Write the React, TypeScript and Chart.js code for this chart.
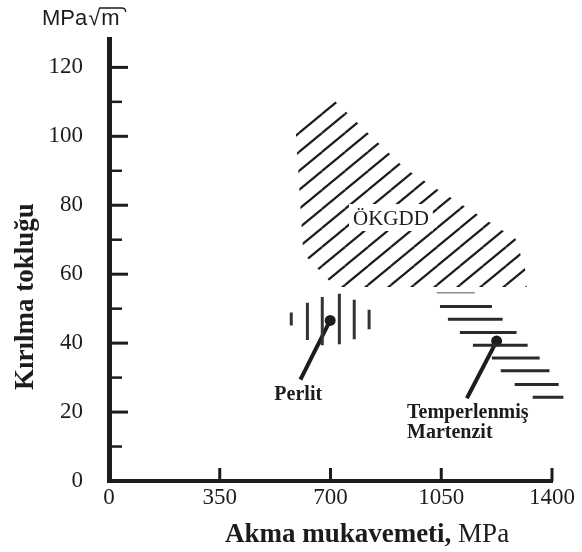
import React, { useEffect, useRef } from 'react';
import { Chart, registerables } from 'chart.js';

Chart.register(...registerables);

// ---- data (MPa on x, MPa√m on y) ----
const xTicks = [0, 350, 700, 1050, 1400];
const yMajorTicks = [0, 20, 40, 60, 80, 100, 120];
const yMinorTicks = [10, 30, 50, 70, 90, 110];

// ÖKGDD hatched region outline
const okgddX = [590, 712, 936, 1285, 1320, 1320, 715, 614, 590];
const okgddY = [101.8, 110.4, 90.6, 70.3, 60.0, 56.3, 56.3, 66.0, 101.8];

// Perlit: vertical hatch strokes
const perlitX = [576, 627, 674, 728, 775, 822];
const perlitLow = [45.1, 40.9, 39.4, 39.7, 41.1, 44.0];
const perlitHigh = [48.9, 51.7, 53.4, 54.3, 52.6, 49.7];

// Temperlenmiş martenzit: horizontal hatch strokes
const martY = [50.6, 46.9, 43.1, 39.4, 35.7, 32.0, 28.0, 24.3];
const martStart = [1046, 1071, 1109, 1150, 1210, 1238, 1282, 1339];
const martEnd = [1210, 1244, 1288, 1323, 1361, 1392, 1421, 1436];
const martFaintY = [54.6];
const martFaintStart = [1036];
const martFaintEnd = [1156];

// leader lines (dot first)
const perlitPointerX = [699, 605];
const perlitPointerY = [46.6, 29.4];
const martPointerX = [1225, 1131];
const martPointerY = [40.6, 24.0];

const INK = '#1c1c1c';
const SERIF = '"Liberation Serif", "Times New Roman", serif';
const SANS = '"Liberation Sans", Arial, sans-serif';

function vSegments(xs: number[], lo: number[], hi: number[]) {
  const out: any[] = [];
  xs.forEach((x, i) => {
    out.push({ x, y: lo[i] }, { x, y: hi[i] }, { x, y: null });
  });
  return out;
}
function hSegments(ys: number[], a: number[], b: number[]) {
  const out: any[] = [];
  ys.forEach((y, i) => {
    out.push({ x: a[i], y }, { x: b[i], y }, { x: a[i], y: null });
  });
  return out;
}

const decorPlugin = {
  id: 'decor',
  afterDraw(chart: any) {
    const { ctx } = chart;
    const xs = chart.scales.x;
    const ys = chart.scales.y;
    const x0 = xs.left;
    const y0 = ys.bottom;
    ctx.save();
    ctx.strokeStyle = INK;
    ctx.lineCap = 'butt';
    // y ticks (inside)
    ctx.lineWidth = 3;
    for (const v of yMajorTicks) {
      if (v === 0) continue;
      const p = ys.getPixelForValue(v);
      ctx.beginPath(); ctx.moveTo(x0, p); ctx.lineTo(x0 + 19, p); ctx.stroke();
    }
    ctx.lineWidth = 2.5;
    for (const v of yMinorTicks) {
      const p = ys.getPixelForValue(v);
      ctx.beginPath(); ctx.moveTo(x0, p); ctx.lineTo(x0 + 13, p); ctx.stroke();
    }
    // x ticks (inside, upward)
    ctx.lineWidth = 3;
    for (const v of xTicks) {
      if (v === 0) continue;
      const p = xs.getPixelForValue(v);
      ctx.beginPath(); ctx.moveTo(p, y0); ctx.lineTo(p, y0 - 13); ctx.stroke();
    }

    ctx.fillStyle = INK;
    // ÖKGDD label with white backing
    {
      ctx.font = `21px ${SERIF}`;
      const t = 'ÖKGDD';
      const w = ctx.measureText(t).width;
      const cx = xs.getPixelForValue(891);
      const cy = ys.getPixelForValue(76);
      ctx.fillStyle = '#fff';
      ctx.fillRect(cx - w / 2 - 4, cy - 15, w + 8, 27);
      ctx.fillStyle = INK;
      ctx.textAlign = 'center';
      ctx.textBaseline = 'middle';
      ctx.fillText(t, cx, cy);
    }
    // Perlit label
    ctx.font = `bold 20px ${SERIF}`;
    ctx.textAlign = 'center';
    ctx.textBaseline = 'middle';
    ctx.fillText('Perlit', xs.getPixelForValue(598), ys.getPixelForValue(25.1));
    // Temperlenmiş Martenzit
    ctx.textAlign = 'left';
    ctx.fillText('Temperlenmiş', xs.getPixelForValue(942), ys.getPixelForValue(19.7));
    ctx.fillText('Martenzit', xs.getPixelForValue(942), ys.getPixelForValue(14));

    // axis titles
    ctx.save();
    ctx.translate(33, 296.5);
    ctx.rotate(-Math.PI / 2);
    ctx.font = `bold 27px ${SERIF}`;
    ctx.textAlign = 'center';
    ctx.textBaseline = 'alphabetic';
    ctx.fillText('Kırılma tokluğu', 0, 0);
    ctx.restore();

    {
      const a = 'Akma mukavemeti, ';
      const b = 'MPa';
      ctx.font = `bold 27px ${SERIF}`;
      const wa = ctx.measureText(a).width;
      ctx.font = `27px ${SERIF}`;
      const wb = ctx.measureText(b).width;
      const start = 367 - (wa + wb) / 2;
      ctx.textAlign = 'left';
      ctx.textBaseline = 'middle';
      ctx.font = `bold 27px ${SERIF}`;
      ctx.fillText(a, start, 535);
      ctx.font = `27px ${SERIF}`;
      ctx.fillText(b, start + wa, 535);
    }

    // unit label MPa√m
    {
      ctx.font = `22px ${SANS}`;
      ctx.textAlign = 'left';
      ctx.textBaseline = 'alphabetic';
      const left = 42;
      const base = 25;
      ctx.fillText('MPa', left, base);
      const wM = ctx.measureText('MPa').width;
      ctx.fillText('√', left + wM + 1, base);
      const wR = ctx.measureText('√').width;
      const mX = left + wM + 1 + wR + 1;
      ctx.fillText('m', mX, base);
      const wm = ctx.measureText('m').width;
      ctx.lineWidth = 1.3;
      ctx.beginPath();
      ctx.moveTo(mX - 2, 8);
      ctx.lineTo(mX + wm + 2, 8);
      ctx.quadraticCurveTo(mX + wm + 6, 8, mX + wm + 6, 12);
      ctx.stroke();
    }
    ctx.restore();
  },
};

export default function App() {
  const ref = useRef<HTMLCanvasElement | null>(null);

  useEffect(() => {
    const canvas = ref.current;
    if (!canvas) return;
    const mainCtx = canvas.getContext('2d');
    // diagonal hatch pattern for ÖKGDD
    const W = 23, H = 19;
    const tile = document.createElement('canvas');
    tile.width = W; tile.height = H;
    const g = tile.getContext('2d')!;
    g.strokeStyle = INK;
    g.lineWidth = 2.2;
    for (const [dx, dy] of [[0, 0], [-W, 0], [W, 0], [0, -H], [0, H]]) {
      g.beginPath(); g.moveTo(dx, dy + H); g.lineTo(dx + W, dy); g.stroke();
    }
    const hatch = mainCtx ? mainCtx.createPattern(tile, 'repeat') : null;

    const chart = new Chart(canvas, {
      type: 'scatter',
      data: {
        datasets: [
          {
            label: 'ÖKGDD',
            data: okgddX.map((x, i) => ({ x, y: okgddY[i] })),
            showLine: true,
            fill: 'shape',
            backgroundColor: (hatch as any) || '#999',
            borderWidth: 0,
            borderColor: 'rgba(0,0,0,0)',
            pointRadius: 0,
          },
          {
            label: 'Perlit',
            data: vSegments(perlitX, perlitLow, perlitHigh),
            showLine: true,
            spanGaps: false,
            borderColor: '#333',
            borderWidth: 3,
            pointRadius: 0,
          },
          {
            label: 'Mart faint',
            data: hSegments(martFaintY, martFaintStart, martFaintEnd),
            showLine: true,
            spanGaps: false,
            borderColor: '#8a8a8a',
            borderWidth: 1.5,
            pointRadius: 0,
          },
          {
            label: 'Temperlenmiş Martenzit',
            data: hSegments(martY, martStart, martEnd),
            showLine: true,
            spanGaps: false,
            borderColor: '#2a2a2a',
            borderWidth: 3,
            pointRadius: 0,
            clip: false,
          },
          {
            label: 'Perlit pointer',
            data: perlitPointerX.map((x, i) => ({ x, y: perlitPointerY[i] })),
            showLine: true,
            borderColor: INK,
            borderWidth: 4,
            pointRadius: [5.5, 0],
            pointBackgroundColor: INK,
            pointBorderWidth: 0,
          },
          {
            label: 'Mart pointer',
            data: martPointerX.map((x, i) => ({ x, y: martPointerY[i] })),
            showLine: true,
            borderColor: INK,
            borderWidth: 4,
            pointRadius: [5.5, 0],
            pointBackgroundColor: INK,
            pointBorderWidth: 0,
          },
        ] as any,
      },
      options: {
        responsive: false,
        animation: false,
        devicePixelRatio: 1,
        events: [],
        layout: { padding: { top: 33, right: 30, left: 0, bottom: 0 } },
        plugins: {
          legend: { display: false },
          tooltip: { enabled: false },
        },
        scales: {
          x: {
            type: 'linear',
            min: 0,
            max: 1400,
            afterFit: (s: any) => { s.height = 71; },
            border: { display: true, color: INK, width: 4 },
            grid: { display: false, drawTicks: false },
            ticks: {
              stepSize: 350,
              autoSkip: false,
              maxRotation: 0,
              includeBounds: false,
              padding: 3,
              color: INK,
              font: { family: SERIF, size: 23 },
              callback: (v: any) => String(v),
            },
          },
          y: {
            type: 'linear',
            min: 0,
            max: 128,
            afterFit: (s: any) => { s.width = 109; },
            border: { display: true, color: INK, width: 5 },
            grid: { display: false, drawTicks: false },
            ticks: {
              stepSize: 10,
              autoSkip: false,
              includeBounds: false,
              padding: 26,
              color: INK,
              font: { family: SERIF, size: 23 },
              callback: (v: any) => (Number(v) % 20 === 0 ? String(v) : ''),
            },
          },
        },
      } as any,
      plugins: [decorPlugin],
    });
    return () => chart.destroy();
  }, []);

  return (
    <div style={{ position: 'fixed', left: 0, top: 0, width: 582, height: 552, background: '#fff' }}>
      <canvas ref={ref} width={582} height={552} style={{ display: 'block', width: 582, height: 552 }} />
    </div>
  );
}
